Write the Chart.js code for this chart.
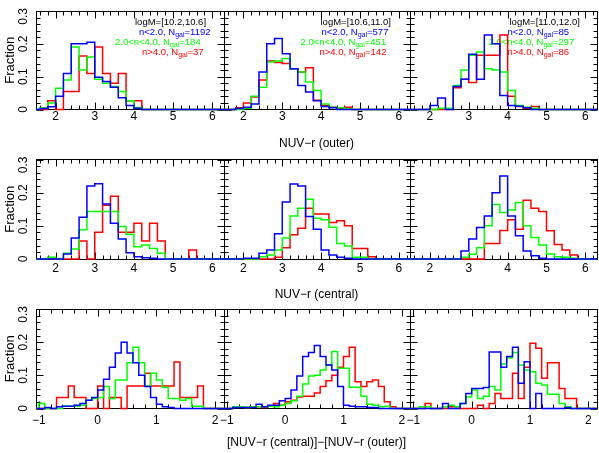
<!DOCTYPE html>
<html><head><meta charset="utf-8">
<script src="https://cdn.jsdelivr.net/npm/chart.js@4.4.1/dist/chart.umd.min.js"></script>
<style>
html,body{margin:0;padding:0;background:#fff;}
#wrap{position:relative;width:599px;height:453px;background:#fff;}
#wrap canvas{position:absolute;left:0;top:0;}
</style></head><body><div id="wrap"></div>
<script>
// ---------------- DATA ----------------
const massBins = ['logM=[10.2,10.6]', 'logM=[10.6,11.0]', 'logM=[11.0,12.0]'];
const seriesNames = ['n<2.0, N', '2.0<n<4.0, N', 'n>4.0, N'];
const nGalBlue = [1192, 577, 85];
const nGalGreen = [184, 451, 297];
const nGalRed = [37, 142, 86];

const colorBinStart = 1.6, colorBinWidth = 0.2;   // NUV-r histograms
const gradBinStart = -1.0, gradBinWidth = 0.1;    // colour-gradient histograms
const colorXRange = [1.5, 6.3];
const gradXRange = [-1.05, 2.15];
const colorXTicks = [2, 3, 4, 5, 6];
const gradXTicks = [-1, 0, 1, 2];
const yTicks = [0, 0.1, 0.2, 0.3];
const rowTitles = ['NUV\u2212r (outer)', 'NUV\u2212r (central)', '[NUV\u2212r (central)]\u2212[NUV\u2212r (outer)]'];

// Row 1: NUV-r (outer), bins from 1.6 step 0.2
const outerBlue_M1  = [0.003,0.008,0.04,0.11,0.2,0.2,0.205,0.098,0.085,0.068,0.036,0.012,0.004];
const outerGreen_M1 = [0.005,0.02,0.065,0.09,0.19,0.12,0.16,0.092,0.08,0.07,0.055,0.027,0.006];
const outerRed_M1   = [0,0.027,0,0.055,0.055,0.163,0.11,0.19,0.11,0.08,0.11,0.027,0.027];

const outerBlue_M2  = [0,0.003,0.007,0.017,0.114,0.2,0.216,0.17,0.124,0.073,0.053,0.027,0.009,0.005];
const outerGreen_M2 = [0,0,0.004,0.04,0.068,0.145,0.148,0.155,0.124,0.114,0.084,0.058,0.017,0.007,0.005,0.002];
const outerRed_M2   = [0,0.005,0.02,0.038,0.09,0.148,0.143,0.14,0.124,0.114,0.127,0.028,0.012,0.007,0.002,0.007];

const outerBlue_M3  = [0,0,0.012,0.035,0,0.07,0.092,0.168,0.092,0.227,0.2,0.043,0.012,0.01,0.005];
const outerGreen_M3 = [0,0,0,0.004,0.004,0.073,0.12,0.165,0.175,0.124,0.12,0.114,0.058,0.012,0.007,0.004];
const outerRed_M3   = [0,0,0,0,0,0.066,0.092,0.082,0.165,0.165,0.165,0.227,0.04,0.009,0.004,0.009];

// Row 2: NUV-r (central), bins from 1.6 step 0.2
const centralBlue_M1  = [0,0,0,0.015,0.063,0.126,0.22,0.227,0.166,0.108,0.06,0.019,0.007,0.004,0.002];
const centralGreen_M1 = [0,0.005,0,0.017,0.03,0.088,0.143,0.143,0.143,0.143,0.098,0.075,0.037,0.042,0.032,0.017];
const centralRed_M1   = [0,0,0,0,0,0.054,0,0.081,0.162,0.189,0.081,0.081,0.108,0.054,0.108,0.054,0,0,0,0.027];

const centralBlue_M2  = [0,0,0.002,0.002,0.017,0.027,0.076,0.172,0.226,0.22,0.128,0.09,0.027,0.012,0.005,0.002];
const centralGreen_M2 = [0,0,0,0,0.007,0.012,0.027,0.063,0.13,0.153,0.18,0.123,0.118,0.096,0.047,0.039,0.005,0.005];
const centralRed_M2   = [0,0,0,0,0,0,0.005,0.034,0.073,0.093,0.153,0.136,0.136,0.11,0.115,0.1,0.032,0.032,0.007];

const centralBlue_M3  = [0,0,0,0,0,0,0.024,0.06,0.095,0.13,0.2,0.25,0.13,0.07,0.024,0.01,0.002];
const centralGreen_M3 = [0,0,0,0,0,0,0.005,0.014,0.034,0.1,0.164,0.14,0.148,0.17,0.1,0.065,0.042,0.015,0.007,0.005,0.002];
const centralRed_M3   = [0,0,0,0,0,0,0,0,0,0.047,0.047,0.086,0.118,0.09,0.177,0.153,0.143,0.085,0.044,0.027,0.012];

// Row 3: [NUV-r (central)]-[NUV-r (outer)], bins from -1.0 step 0.1
const gradBlue_M1  = [0,0.003,0,0.005,0.007,0.007,0.01,0.015,0.025,0.033,0.056,0.088,0.124,0.167,0.2,0.167,0.138,0.1,0.066,0.033,0.013,0.005,0.003];
const gradGreen_M1 = [0.015,0,0,0,0.007,0.007,0.007,0.01,0.025,0.03,0.033,0.066,0.03,0.086,0.086,0.138,0.185,0.138,0.068,0.106,0.086,0.064,0.03,0.03,0.025,0.03,0.007,0.007];
const gradRed_M1   = [0,0,0,0.033,0.033,0.068,0.033,0.033,0,0,0.068,0,0.033,0.033,0,0.068,0.068,0.068,0.106,0.068,0.068,0.068,0.068,0.14,0.033,0.033,0.033,0.068];

const gradBlue_M2  = [0,0.003,0.003,0.003,0.003,0.013,0.005,0.01,0.01,0.023,0.03,0.056,0.098,0.157,0.169,0.19,0.157,0.131,0.116,0.066,0.01,0.007,0.005,0.005,0.003,0.003];
const gradGreen_M2 = [0,0.005,0.005,0.003,0.005,0.005,0.005,0.007,0.005,0.01,0.015,0.023,0.037,0.074,0.098,0.1,0.116,0.131,0.172,0.121,0.121,0.064,0.064,0.037,0.013,0.01,0.005,0.007];
const gradRed_M2   = [0,0.005,0.005,0.003,0.005,0.005,0.003,0.008,0.015,0.01,0.02,0.025,0.035,0.037,0.037,0.047,0.066,0.084,0.1,0.124,0.157,0.185,0.081,0.066,0.081,0.086,0.066,0.02,0.005];

const gradBlue_M3  = [0,0,0,0,0,0.015,0,0,0.015,0.045,0.06,0.06,0.063,0.17,0.17,0.124,0.157,0.185,0.076,0.141,0,0.045,0,0,0,0,0.003];
const gradGreen_M3 = [0,0.005,0.005,0,0,0.005,0.01,0.005,0.015,0.035,0.056,0.03,0.037,0.066,0.056,0.134,0.152,0.169,0.131,0.116,0.111,0.076,0.071,0.043,0.043,0.015,0.005];
const gradRed_M3   = [0,0,0.015,0,0,0,0.005,0.005,0,0,0,0.01,0,0.015,0.045,0.03,0.03,0.106,0.03,0.124,0.197,0.182,0.091,0.138,0.138,0.06,0.03,0.03];

// ---------------- LAYOUT ----------------
const W = 599, H = 453;
const FONT = '"Liberation Sans", Arial, Helvetica, sans-serif';
const colLeft = [36, 224, 410.5], colRight = [224, 410.5, 597];
const rowTop = [11, 159.5, 309], rowBottom = [109.5, 259, 408.5];
const rowLabelY = [117, 268.5, 421];
const rowTitleY = [144, 295, 443];
const legendDx = [[99,103,79,106],[96.5,97.5,76.5,95.5],[99,97,78,97]];
const COLORS = ['#0000ff', '#00ff00', '#ff0000'];

const rows = [
  {bin0: colorBinStart, bw: colorBinWidth, range: colorXRange, ticks: colorXTicks,
   data: [[outerBlue_M1, outerGreen_M1, outerRed_M1],[outerBlue_M2, outerGreen_M2, outerRed_M2],[outerBlue_M3, outerGreen_M3, outerRed_M3]]},
  {bin0: colorBinStart, bw: colorBinWidth, range: colorXRange, ticks: colorXTicks,
   data: [[centralBlue_M1, centralGreen_M1, centralRed_M1],[centralBlue_M2, centralGreen_M2, centralRed_M2],[centralBlue_M3, centralGreen_M3, centralRed_M3]]},
  {bin0: gradBinStart, bw: gradBinWidth, range: gradXRange, ticks: gradXTicks,
   data: [[gradBlue_M1, gradGreen_M1, gradRed_M1],[gradBlue_M2, gradGreen_M2, gradRed_M2],[gradBlue_M3, gradGreen_M3, gradRed_M3]]}
];

function histPoints(start, width, values, xmin, xmax) {
  const pts = [{x: xmin, y: 0}];
  values.forEach((v, i) => pts.push({x: +(start + i * width).toFixed(4), y: v}));
  pts.push({x: +(start + values.length * width).toFixed(4), y: 0});
  pts.push({x: xmax, y: 0});
  return pts;
}
const fmt = v => String(v).replace('-', '\u2212');

const framePlugin = {
  id: 'frame',
  beforeDatasetsDraw(chart) {
    const o = chart.options.plugins.frame;
    const {ctx, chartArea: a} = chart;
    const xs = chart.scales.x, ys = chart.scales.y;
    const L = Math.floor(a.left) + 0.5, R = Math.floor(a.right) + 0.5;
    const T = Math.floor(a.top) + 0.5, B = Math.floor(a.bottom) + 0.5;
    ctx.save();
    ctx.strokeStyle = '#000';
    ctx.lineWidth = 1;
    ctx.strokeRect(L, T, R - L, B - T);
    const MAJ = 7, MIN = 4;
    ctx.beginPath();
    for (let k = Math.ceil(xs.min * 5 - 1e-6); k / 5 <= xs.max + 1e-6; k++) {
      const v = k / 5;
      const len = (k % 5 === 0) ? MAJ : MIN;
      const px = Math.round(xs.getPixelForValue(v)) + 0.5;
      ctx.moveTo(px, B); ctx.lineTo(px, B - len);
      ctx.moveTo(px, T); ctx.lineTo(px, T + len);
    }
    for (let k = 0; k <= 15; k++) {
      const v = k * 0.02;
      const len = (k % 5 === 0) ? MAJ : MIN;
      const py = Math.round(ys.getPixelForValue(v)) + 0.5;
      ctx.moveTo(L, py); ctx.lineTo(L + len, py);
      ctx.moveTo(R, py); ctx.lineTo(R - len, py);
    }
    ctx.stroke();
    ctx.fillStyle = '#000';
    ctx.font = '12px ' + FONT;
    ctx.textAlign = 'center';
    ctx.textBaseline = 'middle';
    o.xTicks.forEach(v => {
      ctx.fillText(fmt(v), xs.getPixelForValue(v), o.labelY);
    });
    if (o.col === 0) {
      yTicks.forEach(v => {
        let py = ys.getPixelForValue(v);
        const s = String(v);
        const hw = ctx.measureText(s).width / 2;
        if (py - hw < a.top - 3) py = a.top - 3 + hw;
        ctx.save();
        ctx.translate(24, py);
        ctx.rotate(-Math.PI / 2);
        ctx.fillText(s, 0, 0);
        ctx.restore();
      });
      ctx.save();
      ctx.font = '13px ' + FONT;
      ctx.translate(10, (a.top + a.bottom) / 2);
      ctx.rotate(-Math.PI / 2);
      ctx.fillText('Fraction', 0, 0);
      ctx.restore();
    }
    if (o.col === 1) {
      ctx.font = '12px ' + FONT;
      ctx.fillText(rowTitles[o.row], (colLeft[0] + colRight[2]) / 2, rowTitleY[o.row]);
    }
    if (o.row === 0) {
      const c = o.col;
      const base = 10;
      ctx.textAlign = 'left';
      ctx.textBaseline = 'alphabetic';
      ctx.font = '9.5px ' + FONT;
      ctx.fillStyle = '#000';
      ctx.fillText(massBins[c], colLeft[c] + legendDx[c][0], base + 14.5);
      const nums = [nGalBlue[c], nGalGreen[c], nGalRed[c]];
      for (let i = 0; i < 3; i++) {
        let x = colLeft[c] + legendDx[c][i + 1];
        const y = base + 24.5 + i * 10;
        ctx.fillStyle = COLORS[i];
        ctx.font = '9.5px ' + FONT;
        ctx.fillText(seriesNames[i], x, y);
        x += ctx.measureText(seriesNames[i]).width;
        ctx.font = '7px ' + FONT;
        ctx.fillText('gal', x, y + 2.5);
        x += ctx.measureText('gal').width;
        ctx.font = '9.5px ' + FONT;
        ctx.fillText('=' + nums[i], x, y);
      }
    }
    ctx.restore();
  }
};

const wrap = document.getElementById('wrap');
for (let r = 0; r < 3; r++) {
  for (let c = 0; c < 3; c++) {
    const row = rows[r];
    const cv = document.createElement('canvas');
    cv.width = W; cv.height = H;
    cv.style.width = W + 'px'; cv.style.height = H + 'px';
    wrap.appendChild(cv);
    const datasets = row.data[c].map((vals, i) => ({
      data: histPoints(row.bin0, row.bw, vals, row.range[0], row.range[1]),
      borderColor: COLORS[i],
      borderWidth: 1.5,
      stepped: true,
      pointRadius: 0,
      fill: false,
      tension: 0,
      clip: 2
    }));
    new Chart(cv, {
      type: 'line',
      data: {datasets},
      options: {
        responsive: false,
        animation: false,
        events: [],
        layout: {padding: {left: colLeft[c], right: W - colRight[c], top: rowTop[r], bottom: H - rowBottom[r]}},
        scales: {
          x: {type: 'linear', min: row.range[0], max: row.range[1], display: false},
          y: {type: 'linear', min: 0, max: 0.3, display: false}
        },
        plugins: {
          legend: {display: false},
          tooltip: {enabled: false},
          frame: {row: r, col: c, xTicks: row.ticks, labelY: rowLabelY[r]}
        }
      },
      plugins: [framePlugin]
    });
  }
}
</script></body></html>
